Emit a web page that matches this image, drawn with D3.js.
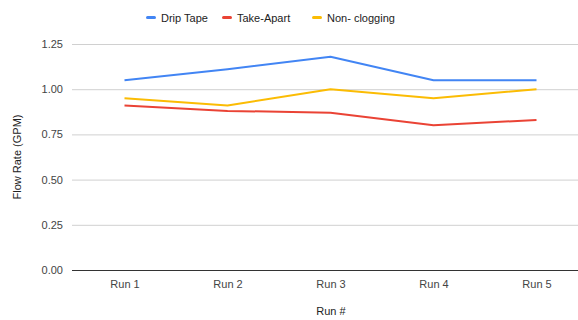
<!DOCTYPE html>
<html lang="en">
  <head>
    <meta charset="utf-8">
    <title>Flow Rate</title>
    <style type="text/css">
      body { margin: 0; background: #fff; }
      text { font-family: "Liberation Sans", Arial, sans-serif; }
      .tick text { font-size: 11px; fill: #444; }
      .AxisTitle { font-size: 11px; fill: #222; }
      .legend text { font-size: 11px; fill: #222; }
    </style>
  </head>
  <body>
    <script src="https://cdnjs.cloudflare.com/ajax/libs/d3/7.8.5/d3.min.js"></script>
    <script type="text/javascript">

      // chart data
      const runs = ["Run 1", "Run 2", "Run 3", "Run 4", "Run 5"];
      const dripTape = [1.05, 1.11, 1.18, 1.05, 1.05];
      const takeApart = [0.91, 0.88, 0.87, 0.80, 0.83];
      const nonClogging = [0.95, 0.91, 1.00, 0.95, 1.00];
      const yTicks = [0, 0.25, 0.5, 0.75, 1.0, 1.25];

      const series = [
        {name: "Drip Tape", values: dripTape, color: "#4285F4"},
        {name: "Take-Apart", values: takeApart, color: "#EA4335"},
        {name: "Non- clogging", values: nonClogging, color: "#FBBC04"}
      ];

      const width = 578, height = 320;

      var svg = d3.select("body")
                  .append("svg")
                  .attr("width", width)
                  .attr("height", height);

      // band scale for the runs, runs past the right edge like the original
      var xScale = d3.scalePoint()
                     .domain(runs)
                     .range([73, 588])
                     .padding(0.5);

      var yScale = d3.scaleLinear()
                     .domain([0, 1.25])
                     .range([270, 44]);

      // gridlines + y labels
      var yAxis = d3.axisLeft(yScale)
                    .tickValues(yTicks)
                    .tickFormat(d3.format(".2f"))
                    .tickSize(-(width - 72))
                    .tickPadding(9);

      var gy = svg.append("g")
                  .attr("transform", "translate(72,0)")
                  .call(yAxis);
      gy.select(".domain").remove();
      gy.selectAll(".tick line")
        .attr("stroke", function (d) { return d === 0 ? "#333" : "#d0d0d0"; })
        .attr("stroke-width", 1);

      // x labels
      var xAxis = d3.axisBottom(xScale).tickSize(0).tickPadding(10);
      var gx = svg.append("g")
                  .attr("transform", "translate(0,270)")
                  .call(xAxis);
      gx.select(".domain").remove();

      // lines
      var line = d3.line()
                   .x(function (d, i) { return xScale(runs[i]); })
                   .y(function (d) { return yScale(d); });

      svg.selectAll("path.series")
         .data(series)
         .enter()
         .append("path")
         .attr("class", "series")
         .attr("fill", "none")
         .attr("stroke", function (d) { return d.color; })
         .attr("stroke-width", 2)
         .attr("stroke-linejoin", "round")
         .attr("d", function (d) { return line(d.values); });

      // legend
      var legendX = [146, 222, 312];
      var legend = svg.append("g").attr("class", "legend");
      series.forEach(function (s, i) {
        legend.append("rect")
              .attr("x", legendX[i])
              .attr("y", 16)
              .attr("width", 10)
              .attr("height", 3)
              .attr("rx", 1.5)
              .attr("fill", s.color);
        legend.append("text")
              .attr("x", legendX[i] + 15)
              .attr("y", 22)
              .text(s.name);
      });

      // axis titles
      svg.append("text")
         .attr("class", "AxisTitle")
         .attr("x", 331)
         .attr("y", 315)
         .attr("text-anchor", "middle")
         .text("Run #");

      svg.append("text")
         .attr("class", "AxisTitle")
         .attr("transform", "translate(21,157) rotate(-90)")
         .attr("text-anchor", "middle")
         .text("Flow Rate (GPM)");
    </script>
  </body>
</html>
